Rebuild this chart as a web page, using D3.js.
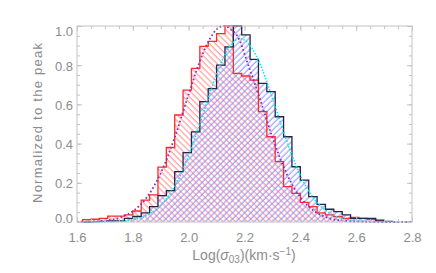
<!DOCTYPE html>
<html>
<head>
<meta charset="utf-8">
<script src="https://cdn.jsdelivr.net/npm/d3@7"></script>
<style>
  body { margin: 0; background: #fff; }
  svg { display: block; }
</style>
</head>
<body>
<div></div>
<script>
const width = 436;
const height = 273;

// histogram bins: left edges, width 0.03
const binStart = 1.62;
const binWidth = 0.03;
const redCounts = [0.012, 0.014, 0.019, 0.03, 0.03, 0.036, 0.056, 0.112, 0.138, 0.28,
  0.38, 0.546, 0.673, 0.784, 0.896, 0.922, 0.961, 1.0, 0.758, 0.745,
  0.724, 0.563, 0.435, 0.308, 0.18, 0.146, 0.1, 0.078, 0.047, 0.036,
  0.027, 0.019, 0.023, 0.019, 0.014, 0.005];
const blackCounts = [0.0, 0.002, 0.003, 0.005, 0.006, 0.018, 0.028, 0.047, 0.078, 0.135,
  0.16, 0.257, 0.354, 0.46, 0.614, 0.68, 0.8, 0.894, 1.0, 0.955,
  0.83, 0.707, 0.665, 0.537, 0.435, 0.282, 0.214, 0.129, 0.09, 0.065,
  0.053, 0.036, 0.019, 0.019, 0.019, 0.01, 0.003];

// fitted curves
const fitX = [1.6, 1.65, 1.7, 1.75, 1.8, 1.85, 1.9, 1.95, 2.0, 2.05, 2.1, 2.125, 2.15, 2.185,
  2.2, 2.25, 2.3, 2.35, 2.4, 2.45, 2.5, 2.55, 2.6, 2.65, 2.7, 2.8];
const purpleFit = [0.001, 0.002, 0.007, 0.021, 0.055, 0.126, 0.249, 0.432, 0.651, 0.857, 0.983, 1.0, 0.983, 0.92,
  0.857, 0.651, 0.432, 0.249, 0.126, 0.055, 0.021, 0.007, 0.002, 0.001, 0.0, 0.0];
const cyanFit = [0.0, 0.0, 0.001, 0.003, 0.012, 0.034, 0.085, 0.182, 0.34, 0.545, 0.755, 0.84, 0.902, 0.935,
  0.929, 0.825, 0.632, 0.418, 0.238, 0.117, 0.05, 0.018, 0.006, 0.002, 0.0, 0.0];

const xMajor = [1.6, 1.8, 2.0, 2.2, 2.4, 2.6, 2.8];
const yMajor = [0.0, 0.2, 0.4, 0.6, 0.8, 1.0];

const x = d3.scaleLinear().domain([1.6, 2.8]).range([77, 412]);
const y = d3.scaleLinear().domain([0, 1]).range([222, 26]);

const xMinor = d3.range(1.6, 2.8001, 0.05).map((d) => +d.toFixed(2));
const yMinor = d3.range(0, 1.0001, 0.05).map((d) => +d.toFixed(2));

const svg = d3.select("div").append("svg")
  .attr("width", width)
  .attr("height", height);

const defs = svg.append("defs");
function hatch(id, color, angle) {
  const p = defs.append("pattern")
    .attr("id", id)
    .attr("patternUnits", "userSpaceOnUse")
    .attr("width", 4.3)
    .attr("height", 10)
    .attr("patternTransform", "rotate(" + angle + ")");
  p.append("line")
    .attr("x1", 1).attr("y1", -1).attr("x2", 1).attr("y2", 11)
    .attr("stroke", color).attr("stroke-width", 1);
}
hatch("hatchRed", "#ff8a8a", -45);
hatch("hatchBlue", "#8c8cff", 45);

function stepPoints(counts) {
  const pts = [[binStart, 0]];
  counts.forEach((c, i) => {
    const x0 = binStart + i * binWidth;
    pts.push([x0, c], [x0 + binWidth, c]);
  });
  pts.push([binStart + counts.length * binWidth, 0]);
  return pts;
}

const line = d3.line().x((d) => x(d[0])).y((d) => y(d[1]));

const plot = svg.append("g");
plot.append("path")
  .attr("d", line(stepPoints(redCounts)) + "Z")
  .attr("fill", "url(#hatchRed)");
plot.append("path")
  .attr("d", line(stepPoints(blackCounts)) + "Z")
  .attr("fill", "url(#hatchBlue)");
plot.append("path")
  .attr("d", line(stepPoints(redCounts)))
  .attr("fill", "none")
  .attr("stroke", "#ff2a2a")
  .attr("stroke-width", 1.3);
plot.append("path")
  .attr("d", line(stepPoints(blackCounts)))
  .attr("fill", "none")
  .attr("stroke", "#25254a")
  .attr("stroke-width", 1.3);

const curve = d3.line().x((d) => x(d[0])).y((d) => y(d[1])).curve(d3.curveMonotoneX);
plot.append("path")
  .attr("d", curve(fitX.map((d, i) => [d, cyanFit[i]])))
  .attr("fill", "none")
  .attr("stroke", "#00e5f5")
  .attr("stroke-width", 1.6)
  .attr("stroke-dasharray", "1.4,1.6");
plot.append("path")
  .attr("d", curve(fitX.map((d, i) => [d, purpleFit[i]])))
  .attr("fill", "none")
  .attr("stroke", "#8e2cb8")
  .attr("stroke-width", 1.8)
  .attr("stroke-dasharray", "1.6,2.4");

// axes
const axisColor = "#c4c4c4";
const labelColor = "#8c8c8c";
const font = "'Liberation Sans', Arial, sans-serif";

function styleAxis(g) {
  g.select(".domain").remove();
  g.selectAll(".tick line").attr("stroke", axisColor);
}

svg.append("g").attr("transform", "translate(0,222)")
  .call(d3.axisBottom(x).tickValues(xMinor).tickSize(-3).tickFormat("")).call(styleAxis);
svg.append("g").attr("transform", "translate(0,222)")
  .call(d3.axisBottom(x).tickValues(xMajor).tickSize(-5).tickPadding(11).tickFormat(d3.format(".1f")))
  .call(styleAxis)
  .selectAll("text").attr("fill", labelColor).attr("font-size", 13).attr("font-family", font);
svg.append("g").attr("transform", "translate(0,26)")
  .call(d3.axisTop(x).tickValues(xMinor).tickSize(-3).tickFormat("")).call(styleAxis);
svg.append("g").attr("transform", "translate(0,26)")
  .call(d3.axisTop(x).tickValues(xMajor).tickSize(-5).tickFormat("")).call(styleAxis);

svg.append("g").attr("transform", "translate(77,0)")
  .call(d3.axisLeft(y).tickValues(yMinor).tickSize(-3).tickFormat("")).call(styleAxis);
const yAx = svg.append("g").attr("transform", "translate(77,0)")
  .call(d3.axisLeft(y).tickValues(yMajor).tickSize(-5).tickPadding(4).tickFormat(d3.format(".1f")))
  .call(styleAxis);
yAx.selectAll("text")
  .attr("fill", labelColor).attr("font-size", 13).attr("font-family", font)
  .attr("dy", null)
  .attr("dominant-baseline", "auto")
  .attr("y", (d) => Math.max(26 + 9.4 - y(d), Math.min(222 - y(d), 5)));
svg.append("g").attr("transform", "translate(412,0)")
  .call(d3.axisRight(y).tickValues(yMinor).tickSize(-3).tickFormat("")).call(styleAxis);
svg.append("g").attr("transform", "translate(412,0)")
  .call(d3.axisRight(y).tickValues(yMajor).tickSize(-5).tickFormat("")).call(styleAxis);

svg.append("rect")
  .attr("x", 77).attr("y", 26).attr("width", 335).attr("height", 196)
  .attr("fill", "none").attr("stroke", axisColor).attr("stroke-width", 1);

// titles
svg.append("text")
  .attr("transform", "translate(42,123) rotate(-90)")
  .attr("text-anchor", "middle")
  .attr("fill", labelColor)
  .attr("font-size", 13)
  .attr("font-family", font)
  .attr("textLength", 160)
  .text("Normalized to the peak");

const xt = svg.append("text")
  .attr("x", 244).attr("y", 260)
  .attr("text-anchor", "middle")
  .attr("fill", labelColor)
  .attr("font-size", 14)
  .attr("font-family", font);
xt.append("tspan").text("Log(");
xt.append("tspan").attr("font-style", "italic").text("σ");
xt.append("tspan").attr("font-size", 10).attr("dy", 3).text("03");
xt.append("tspan").attr("dy", -3).text(")(km·s");
xt.append("tspan").attr("font-size", 10).attr("dy", -5).text("−1");
xt.append("tspan").attr("dy", 5).text(")");
</script>
</body>
</html>
